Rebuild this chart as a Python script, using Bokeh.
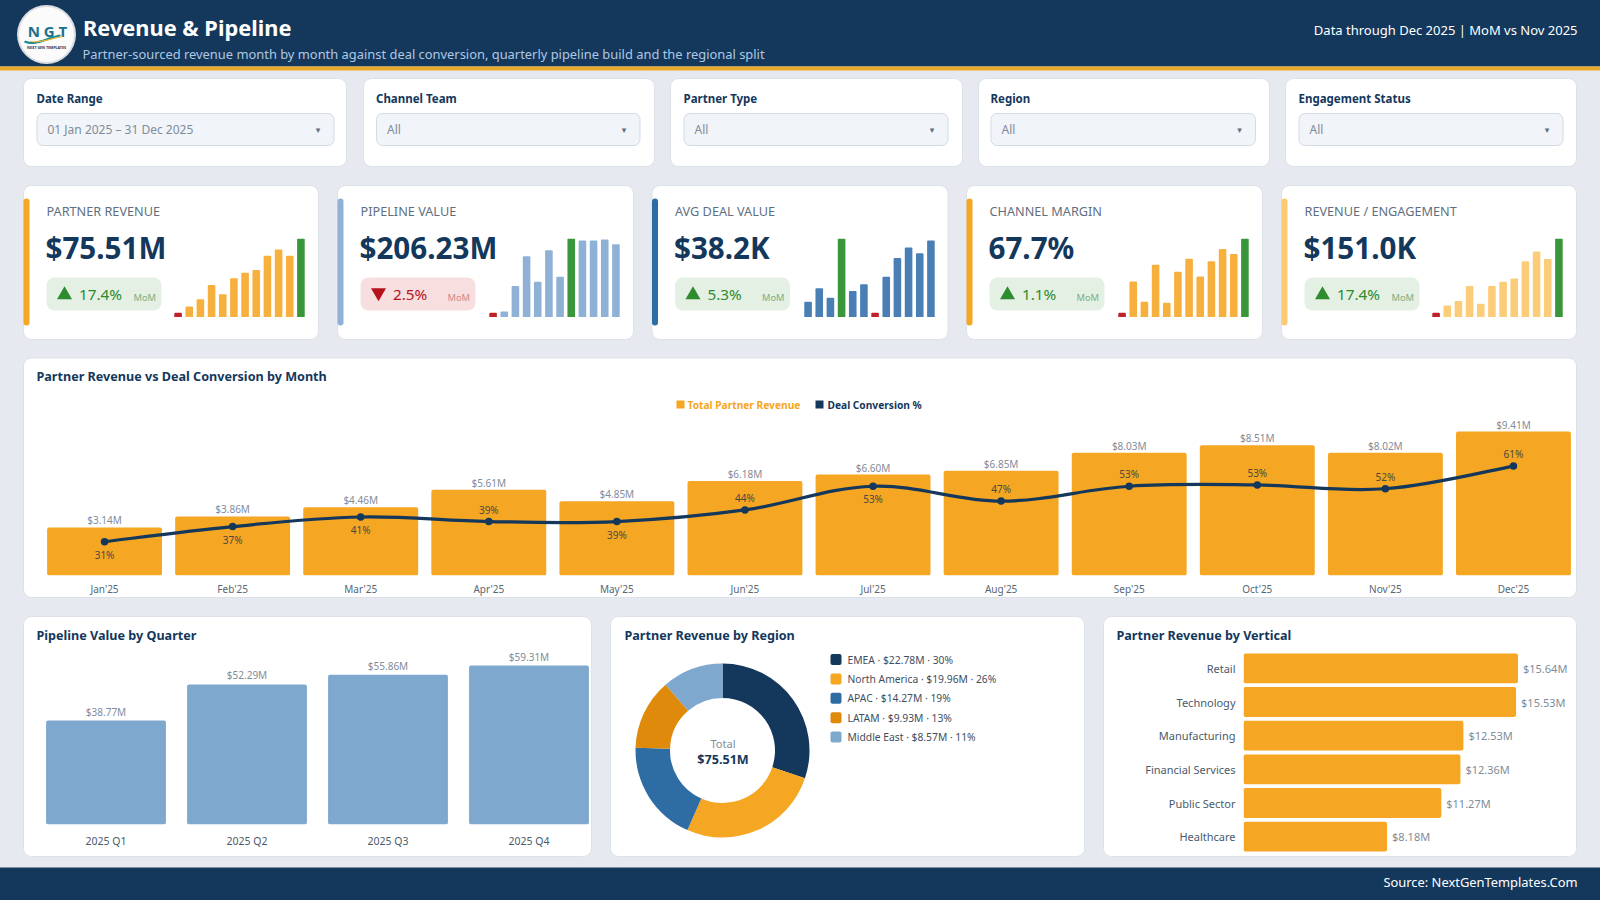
from bokeh.plotting import figure
from bokeh.models import Range1d, FactorRange, FixedTicker
from bokeh.core.properties import value
from bokeh.embed import file_html
from bokeh.resources import INLINE
import math

# ---------- data ----------
months = ["Jan'25","Feb'25","Mar'25","Apr'25","May'25","Jun'25","Jul'25","Aug'25","Sep'25","Oct'25","Nov'25","Dec'25"]
revenue = [3.14,3.86,4.46,5.61,4.85,6.18,6.60,6.85,8.03,8.51,8.02,9.41]
conversion = [31,37,40.8,39,39,43.6,53,47.1,53,53.5,52,61]
conversion_labels = ["31%","37%","41%","39%","39%","44%","53%","47%","53%","53%","52%","61%"]
label_below = [True,True,True,False,True,False,True,False,False,False,False,False]

quarters = ["2025 Q1","2025 Q2","2025 Q3","2025 Q4"]
pipeline = [38.77,52.29,55.86,59.31]

regions = ["EMEA","North America","APAC","LATAM","Middle East"]
region_rev = [22.78,19.96,14.27,9.93,8.57]
region_pct = [30,26,19,13,11]

verticals = ["Retail","Technology","Manufacturing","Financial Services","Public Sector","Healthcare"]
vertical_rev = [15.64,15.53,12.53,12.36,11.27,8.18]

kpi_titles = ["PARTNER REVENUE","PIPELINE VALUE","AVG DEAL VALUE","CHANNEL MARGIN","REVENUE / ENGAGEMENT"]
kpi_values = ["$75.51M","$206.23M","$38.2K","67.7%","$151.0K"]
kpi_deltas = ["17.4%","2.5%","5.3%","1.1%","17.4%"]
kpi_up = [True,False,True,True,True]
spark_revenue = [14,33,54,97,69,117,133,141,184,202,184,235]
spark_pipeline = [14,18,94,182,106,200,121,235,229,229,232,218]
spark_deal = [47,87,59,235,79,99,14,121,177,208,191,229]
spark_margin = [14,107,47,157,44,136,175,122,167,204,189,235]
spark_engage = [14,36,49,94,41,94,106,116,167,196,174,235]

filter_labels = ["Date Range","Channel Team","Partner Type","Region","Engagement Status"]
filter_values = ["01 Jan 2025 – 31 Dec 2025","All","All","All","All"]

# ---------- style ----------
FONT = "Noto Sans"
NAVY = "#14375C"; AMBER = "#F5A623"; SKY = "#7FA8CF"; BLUE = "#2E6CA4"; DEEP = "#E08A0B"
PAGE = "#E6E9EF"; GRAY = "#7F8C99"; SLATE = "#5F6F80"
kpi_accents = ["#F5A623","#8FB1D6","#2E6CA4","#F5A623","#FBCB74"]
spark_colors = ["#F7B03E","#8FB1D6","#4A7FB5","#F7B03E","#FBCD78"]
region_colors = [NAVY,AMBER,BLUE,DEEP,SKY]
UP = "#2E8B2E"; DOWN = "#B5121B"; UPBAR = "#3A963A"; DOWNBAR = "#C0202A"

def at(x, y):
    return {"position":"absolute","left":f"{x}px","top":f"{y}px"}

def bare(x, y, w, h, **kw):
    f = figure(width=w, height=h, output_backend="svg", toolbar_location=None,
               styles=at(x,y), border_fill_color=None, background_fill_color=None,
               outline_line_color=None, **kw)
    f.grid.visible = False
    return f

# ---------- page background figure (pixel space, shifted one pixel out of the window) ----------
bg = figure(width=1602, height=902, x_range=Range1d(0,1602), y_range=Range1d(902,0),
            output_backend="svg", toolbar_location=None, styles=at(-1,-1),
            min_border=0, min_border_left=0, min_border_right=0, min_border_top=0, min_border_bottom=0,
            border_fill_color=PAGE, background_fill_color=PAGE, outline_line_color=None)
bg.axis.visible = False
bg.grid.visible = False

def T(x, y, s, size, color, bold=False, align="left", font=FONT):
    bg.text(x=[x], y=[y], text=[s], text_font=value(font), text_font_size=f"{size}px", text_color=color,
            text_font_style="bold" if bold else "normal", text_align=align, text_baseline="middle")

def R(l, t, r, b, fill, line=None, radius=0):
    bg.quad(left=[l], right=[r], top=[t], bottom=[b], fill_color=fill, line_color=line, border_radius=radius)

CARD_LINE = "#DDE1E8"
# header & footer
R(0,0,1602,67,NAVY)
R(0,67,1602,71,"#EBA92C")
R(0,868,1602,902,NAVY)
T(83.5,28,"Revenue & Pipeline",21.8,"#FFFFFF",True)
T(83,54.5,"Partner-sourced revenue month by month against deal conversion, quarterly pipeline build and the regional split",12.9,"#AFC8E2")
T(1578,30,"Data through Dec 2025 | MoM vs Nov 2025",13,"#FFFFFF",align="right")
T(1578,882,"Source: NextGenTemplates.Com",12.9,"#FFFFFF",align="right")

# logo
bg.circle(x=[47],y=[35],radius=29.5,fill_color="#D9DDE2",line_color=None)
bg.circle(x=[47],y=[35],radius=27.5,fill_color="#FBFBFC",line_color=None)
T(48,31,"N G T",15,"#1B6F8C",True,"center")
bg.bezier(x0=[25],y0=[42],x1=[61],y1=[36],cx0=[37],cy0=[47],cx1=[47],cy1=[38],line_color="#1B8A8C",line_width=2)
bg.bezier(x0=[31],y0=[42],x1=[63],y1=[37],cx0=[41],cy0=[44],cx1=[51],cy1=[39],line_color="#E6B53C",line_width=1.2)
T(47,48,"NEXT GEN TEMPLATES",3.6,NAVY,True,"center")

# filter cards
fc_left = [24,364,671,979,1286]; fc_right = [347,655,963,1270,1577]
dd_left = [37.5,377,684.5,991.5,1299.5]; dd_right = [334.5,640.5,948.5,1256,1563.5]
lab_left = [37,376.5,684,991,1299]
for i in range(5):
    R(fc_left[i],79,fc_right[i],167,"#FFFFFF",CARD_LINE,8)
    T(lab_left[i],98.7,filter_labels[i],11.5,NAVY,True)
    R(dd_left[i],114,dd_right[i],146,"#F1F4F8","#D3DAE2",6)
    T(lab_left[i]+11,130,filter_values[i],12,"#7F8C99")
    T(dd_right[i]-16,130,"▾",9,"#5F6F80",align="center",font="DejaVu Sans")

# KPI cards
kc_left = [24,338,652.5,967,1282]; kc_right = [319,634,948.5,1263,1577]
for i in range(5):
    L = kc_left[i]
    R(L,186,kc_right[i],340,"#FFFFFF",CARD_LINE,8)
    R(L,199,L+6,326,kpi_accents[i],None,3)
    T(L+23,211,kpi_titles[i],12.7,SLATE)
    T(L+22,248,kpi_values[i],29.6,NAVY,True)
    R(L+23,278,L+138,311,"#E3F0E3" if kpi_up[i] else "#F8DFDF",None,8)
    c = UP if kpi_up[i] else DOWN
    bg.scatter(x=[L+41],y=[295.5 if kpi_up[i] else 293],size=15,marker="triangle" if kpi_up[i] else "inverted_triangle",fill_color=c,line_color=None)
    T(L+55.5,294.5,kpi_deltas[i],15.3,c)
    T(L+110,297.5,"MoM",9.3,"#82AD82" if kpi_up[i] else "#CE8A8A")

# panel cards
R(24,358.5,1577,598,"#FFFFFF",CARD_LINE,8)
R(24,617,592,857,"#FFFFFF",CARD_LINE,8)
R(611,617,1085,857,"#FFFFFF",CARD_LINE,8)
R(1104,617,1577,857,"#FFFFFF",CARD_LINE,8)
T(37,377,"Partner Revenue vs Deal Conversion by Month",12.6,NAVY,True)
T(37,636,"Pipeline Value by Quarter",12.6,NAVY,True)
T(625,636,"Partner Revenue by Region",12.6,NAVY,True)
T(1117,636,"Partner Revenue by Vertical",12.6,NAVY,True)

# main chart legend
R(677,401,685,409,AMBER)
T(688,405,"Total Partner Revenue",10.2,AMBER,True)
R(816,401,824,409,NAVY)
T(828,405,"Deal Conversion %",10.2,NAVY,True)

# donut legend
for i in range(5):
    y = 660 + i*19.4
    R(831,y-5.5,842,y+5.5,region_colors[i],None,2)
    T(848,y,f"{regions[i]} · ${region_rev[i]:.2f}M · {region_pct[i]}%",10.3,"#3F4E5E")

# donut centre
T(723.5,744,"Total",11,GRAY,align="center")
T(723.5,760,"$75.51M",12.6,NAVY,True,"center")

# ---------- main combo chart ----------
idx = list(range(len(months)))
main = bare(23.5,400,1553,200,x_range=Range1d(-0.5,11.5),y_range=Range1d(0,11.44),
            min_border_left=16,min_border_right=0,min_border_top=0,min_border_bottom=25)
main.extra_y_ranges = {"pct":Range1d(17.6,87.0)}
main.yaxis.visible = False
ax = main.xaxis[0]
ax.ticker = FixedTicker(ticks=idx)
ax.major_label_overrides = {i:m for i,m in zip(idx,months)}
ax.axis_line_color = None; ax.major_tick_line_color = None; ax.minor_tick_line_color = None
ax.major_tick_out = 0; ax.major_tick_in = 0; ax.minor_tick_out = 0; ax.minor_tick_in = 0
ax.major_label_text_font = FONT; ax.major_label_text_font_size = "10px"; ax.major_label_text_color = "#566675"
ax.major_label_standoff = 6
main.vbar(x=idx,top=revenue,width=0.897,fill_color=AMBER,line_color=None,border_radius=2)
main.text(x=idx,y=revenue,text=[f"${v:.2f}M" for v in revenue],text_font=value(FONT),text_font_size="10px",
          text_color=GRAY,text_align="center",text_baseline="bottom",y_offset=0)
# smooth conversion curve: cubic segments through the read values
S = 0.18
n = len(conversion)
x0,y0,x1,y1,c0x,c0y,c1x,c1y = [],[],[],[],[],[],[],[]
for i in range(n-1):
    a = max(i-1,0); b = min(i+2,n-1)
    x0.append(idx[i]); y0.append(conversion[i]); x1.append(idx[i+1]); y1.append(conversion[i+1])
    c0x.append(idx[i]+S*(idx[i+1]-idx[a])); c0y.append(conversion[i]+S*(conversion[i+1]-conversion[a]))
    c1x.append(idx[i+1]-S*(idx[b]-idx[i])); c1y.append(conversion[i+1]-S*(conversion[b]-conversion[i]))
main.bezier(x0=x0,y0=y0,x1=x1,y1=y1,cx0=c0x,cy0=c0y,cx1=c1x,cy1=c1y,line_color=NAVY,line_width=3.2,y_range_name="pct")
main.scatter(x=idx,y=conversion,size=7.5,fill_color=NAVY,line_color=None,y_range_name="pct")
main.text(x=idx,y=conversion,text=conversion_labels,text_font=value(FONT),text_font_size="10px",text_color="#4B4A3F",
          text_align="center",text_baseline="middle",y_offset=[13 if b else -12 for b in label_below],y_range_name="pct")

# ---------- pipeline by quarter ----------
qf = bare(23,645,576,205,x_range=FactorRange(factors=quarters),y_range=Range1d(0,66.8),
          min_border_left=12,min_border_right=0,min_border_top=0,min_border_bottom=24)
qf.yaxis.visible = False
qa = qf.xaxis[0]
qa.axis_line_color=None; qa.major_tick_line_color=None; qa.major_tick_out=0; qa.major_tick_in=0
qa.major_label_text_font=FONT; qa.major_label_text_font_size="10.5px"; qa.major_label_text_color="#4A5A6A"
qa.major_label_standoff=9
qf.vbar(x=quarters,top=pipeline,width=0.85,fill_color=SKY,line_color=None,border_radius=2)
qf.text(x=quarters,y=pipeline,text=[f"${v:.2f}M" for v in pipeline],text_font=value(FONT),text_font_size="10px",
        text_color=GRAY,text_align="center",text_baseline="bottom",y_offset=-2)

# ---------- donut ----------
df = bare(632,660,180,180,x_range=Range1d(-90,90),y_range=Range1d(-90,90),min_border=0,
          min_border_left=0,min_border_right=0,min_border_top=0,min_border_bottom=0)
df.axis.visible = False
total = sum(region_rev)
starts,ends = [],[]
cum = 0.0
for v in region_rev:
    starts.append(math.pi/2 - 2*math.pi*(cum+v)/total)
    ends.append(math.pi/2 - 2*math.pi*cum/total)
    cum += v
df.annular_wedge(x=0,y=0,inner_radius=52.5,outer_radius=87,start_angle=starts,end_angle=ends,
                 fill_color=region_colors,line_color=None)

# ---------- vertical bars ----------
vf = bare(1103,651,491,202,x_range=Range1d(0,20),y_range=FactorRange(factors=verticals[::-1]),
          min_border_left=140,min_border_right=0,min_border_top=0,min_border_bottom=0)
vf.xaxis.visible = False
va = vf.yaxis[0]
va.axis_line_color=None; va.major_tick_line_color=None; va.major_tick_out=0; va.major_tick_in=0
va.major_label_text_font=FONT; va.major_label_text_font_size="11px"; va.major_label_text_color="#4A5A6A"
va.major_label_standoff=8
vf.hbar(y=verticals,right=vertical_rev,height=0.884,fill_color=AMBER,line_color=None,border_radius=2)
vf.text(x=vertical_rev,y=verticals,text=[f"${v:.2f}M" for v in vertical_rev],text_font=value(FONT),text_font_size="11px",
        text_color=GRAY,text_align="left",text_baseline="middle",x_offset=5)

# ---------- sparklines ----------
spark_series = [spark_revenue,spark_pipeline,spark_deal,spark_margin,spark_engage]
spark_left = [172,486.7,801.5,1116.2,1430.4]
sparks = []
for k,vals in enumerate(spark_series):
    sf = bare(spark_left[k],237.5,134,79,x_range=Range1d(-0.5,11.5),y_range=Range1d(0,max(vals)),
              min_border_left=0,min_border_right=0,min_border_top=0,min_border_bottom=0)
    sf.axis.visible = False
    cols = [DOWNBAR if v==min(vals) else UPBAR if v==max(vals) else spark_colors[k] for v in vals]
    sf.vbar(x=list(range(12)),top=vals,width=0.68,fill_color=cols,line_color=None,border_radius=1)
    sparks.append(sf)

open("out.html","w").write(file_html([bg,main,qf,df,vf]+sparks,INLINE))
